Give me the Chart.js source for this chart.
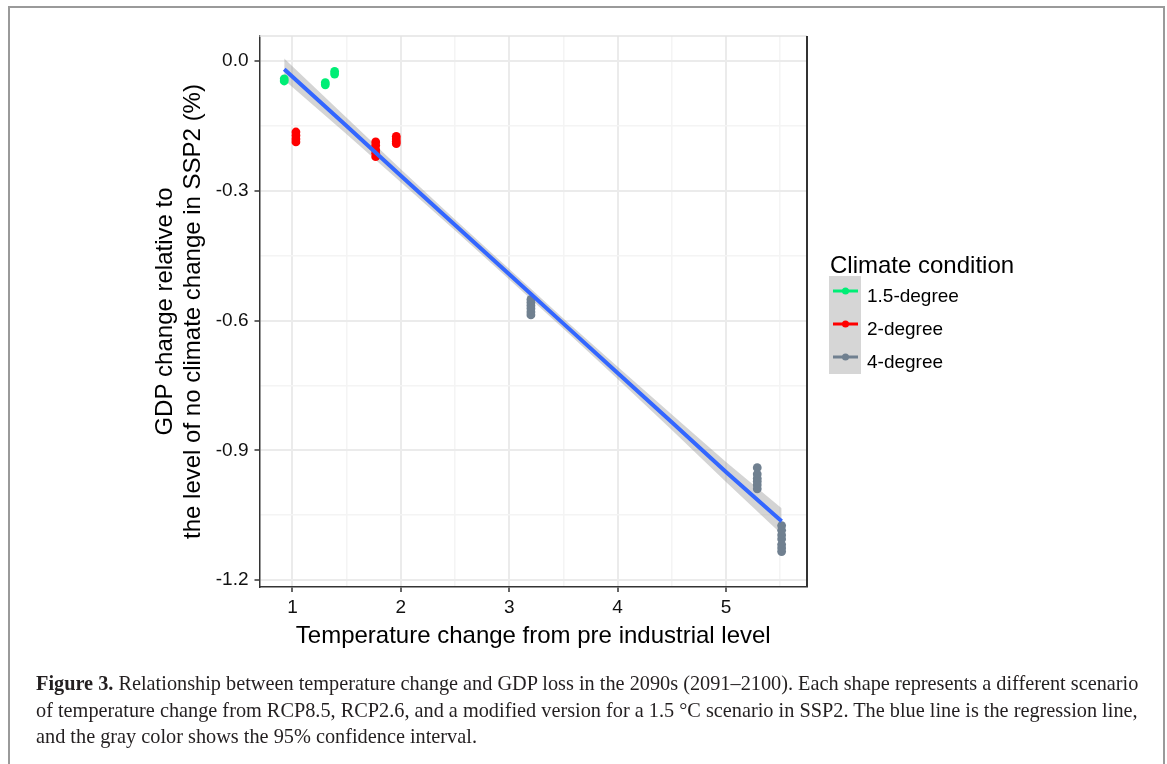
<!DOCTYPE html>
<html>
<head>
<meta charset="utf-8">
<script src="https://cdn.jsdelivr.net/npm/chart.js@4.4.1/dist/chart.umd.min.js"></script>
<style>
  html, body { margin: 0; padding: 0; background: #fff; overflow: hidden; }
  #frame {
    position: absolute; left: 8px; top: 6px; width: 1157px; height: 820px;
    box-sizing: border-box; border: 2px solid #9a9a9a;
  }
  #chart { position: absolute; left: 0; top: 0; }
  #caption {
    position: absolute; left: 36px; top: 670px; width: 1101px;
    font-family: "Liberation Serif", "DejaVu Serif", serif;
    font-size: 20.3px; line-height: 26.5px; color: #231f20;
  }
  #caption div { white-space: nowrap; }
  #caption .just { text-align: justify; text-align-last: justify; }
</style>
</head>
<body>
<div id="frame"></div>
<canvas id="chart" width="1167" height="764"></canvas>
<div id="caption">
  <div class="just"><b>Figure 3.</b> Relationship between temperature change and GDP loss in the 2090s (2091–2100). Each shape represents a different scenario</div>
  <div class="just">of temperature change from RCP8.5, RCP2.6, and a modified version for a 1.5 °C scenario in SSP2. The blue line is the regression line,</div>
  <div>and the gray color shows the 95% confidence interval.</div>
</div>
<script>
// === Data ===
const groupNames = ["1.5-degree", "2-degree", "4-degree"];

const temp15 = [0.924, 0.924, 1.303, 1.303, 1.389, 1.389];
const gdp15 = [-0.041, -0.046, -0.050, -0.055, -0.024, -0.030];

const temp20 = [1.032, 1.032, 1.032, 1.032, 1.768, 1.768, 1.768, 1.768, 1.768, 1.958, 1.958, 1.958, 1.958];
const gdp20 = [-0.164, -0.172, -0.180, -0.187, -0.187, -0.195, -0.205, -0.213, -0.221, -0.174, -0.180, -0.186, -0.191];

const temp40 = [3.20, 3.20, 3.20, 3.20, 3.20, 3.20,
  5.288, 5.288, 5.288, 5.288, 5.288, 5.288,
  5.513, 5.513, 5.513, 5.513, 5.513, 5.513, 5.513];
const gdp40 = [-0.551, -0.558, -0.565, -0.572, -0.580, -0.587,
  -0.940, -0.955, -0.965, -0.972, -0.980, -0.989,
  -1.074, -1.085, -1.096, -1.105, -1.118, -1.126, -1.134];

// regression line and 95% band
const fitTemp = [0.924, 1.5, 2, 2.5, 3, 3.5, 4, 4.5, 5, 5.513];
const fitGdp = [-0.019, -0.150, -0.265, -0.379, -0.493, -0.607, -0.721, -0.835, -0.950, -1.064];
const fitLower = [-0.044, -0.169, -0.280, -0.392, -0.505, -0.619, -0.735, -0.853, -0.973, -1.094];
const fitUpper = [0.006, -0.131, -0.250, -0.366, -0.481, -0.595, -0.707, -0.817, -0.927, -1.034];

const xTicksMajor = [1, 2, 3, 4, 5];
const yTicksMajor = [0.0, -0.3, -0.6, -0.9, -1.2];

// === Styles ===
const FONT = "'Liberation Sans', Arial, sans-serif";
const groupColors = ["#00EE76", "#FF0000", "#708090"];

const toPoints = (xs, ys) => xs.map((x, i) => ({ x: x, y: ys[i] }));
const isMajor = (v, list) => list.some(t => Math.abs(t - v) < 1e-6);

const scatterSets = [
  [temp15, gdp15], [temp20, gdp20], [temp40, gdp40]
].map((d, i) => ({
  label: groupNames[i],
  data: toPoints(d[0], d[1]),
  backgroundColor: groupColors[i],
  borderColor: groupColors[i],
  borderWidth: 0,
  pointRadius: 4.4,
  legendEntry: true,
  order: 1
}));

const datasets = [
  {
    label: "fit",
    data: toPoints(fitTemp, fitGdp),
    showLine: true,
    borderColor: "#3366FF",
    borderWidth: 4,
    pointRadius: 0,
    order: 0
  },
  ...scatterSets,
  {
    label: "lower",
    data: toPoints(fitTemp, fitLower),
    showLine: true,
    borderWidth: 0,
    borderColor: "rgba(0,0,0,0)",
    pointRadius: 0,
    order: 3
  },
  {
    label: "upper",
    data: toPoints(fitTemp, fitUpper),
    showLine: true,
    borderWidth: 0,
    borderColor: "rgba(0,0,0,0)",
    backgroundColor: "rgba(153,153,153,0.42)",
    fill: "-1",
    pointRadius: 0,
    order: 2
  }
];

// top / right panel edges
const panelEdges = {
  id: "panelEdges",
  beforeDatasetsDraw(chart) {
    const a = chart.chartArea;
    const c = chart.ctx;
    c.save();
    c.strokeStyle = "#e3e3e3";
    c.lineWidth = 1.5;
    c.beginPath();
    c.moveTo(a.left, a.top);
    c.lineTo(a.right, a.top);
    c.stroke();
    c.strokeStyle = "#333";
    c.lineWidth = 2;
    c.beginPath();
    c.moveTo(a.right, a.top);
    c.lineTo(a.right, a.bottom);
    c.stroke();
    c.restore();
  }
};

// ggplot style legend with gray key background
const keyLegend = {
  id: "keyLegend",
  afterDraw(chart) {
    const c = chart.ctx;
    const items = chart.data.datasets.filter(d => d.legendEntry);
    c.save();
    c.fillStyle = "#000";
    c.font = "24px " + FONT;
    c.textBaseline = "alphabetic";
    c.fillText("Climate condition", 830, 273);

    c.fillStyle = "#d6d6d6";
    c.fillRect(829, 276, 32, 98);

    items.forEach((d, i) => {
      const y = 291 + i * 33;
      c.strokeStyle = d.borderColor;
      c.lineWidth = 3;
      c.beginPath();
      c.moveTo(833, y);
      c.lineTo(858, y);
      c.stroke();
      c.fillStyle = d.backgroundColor;
      c.beginPath();
      c.arc(845.5, y, 3.5, 0, Math.PI * 2);
      c.fill();
      c.fillStyle = "#000";
      c.font = "19px " + FONT;
      c.fillText(d.label, 867, y + 11);
    });
    c.restore();
  }
};

new Chart(document.getElementById("chart"), {
  type: "scatter",
  data: { datasets: datasets },
  plugins: [panelEdges, keyLegend],
  options: {
    responsive: false,
    devicePixelRatio: 1,
    animation: false,
    layout: { padding: { left: 0, top: 36, right: 360, bottom: 107 } },
    plugins: {
      legend: { display: false },
      tooltip: { enabled: false }
    },
    scales: {
      x: {
        type: "linear",
        min: 0.696,
        max: 5.747,
        afterFit: s => { s.height = 70; },
        ticks: {
          stepSize: 0.5,
          includeBounds: false,
          autoSkip: false,
          maxRotation: 0,
          padding: 4,
          color: "#111",
          font: { size: 19, family: FONT },
          callback: v => isMajor(v, xTicksMajor) ? String(Math.round(v)) : ""
        },
        grid: {
          color: ctx => ctx.tick && isMajor(ctx.tick.value, xTicksMajor) ? "#ebebeb" : "#f4f4f4",
          lineWidth: ctx => ctx.tick && isMajor(ctx.tick.value, xTicksMajor) ? 2 : 1.5,
          tickLength: 5,
          tickColor: ctx => ctx.tick && isMajor(ctx.tick.value, xTicksMajor) ? "#333" : "rgba(0,0,0,0)",
          tickWidth: 1.5
        },
        border: { color: "#333", width: 1.5 },
        title: {
          display: true,
          text: "Temperature change from pre industrial level",
          color: "#000",
          font: { size: 24, family: FONT, lineHeight: 1.2 },
          padding: { top: 0, bottom: 6.6 }
        }
      },
      y: {
        type: "linear",
        min: -1.216,
        max: 0.058,
        afterFit: s => { s.width = 259.5; },
        ticks: {
          stepSize: 0.15,
          includeBounds: false,
          autoSkip: false,
          padding: 6,
          color: "#111",
          font: { size: 19, family: FONT },
          callback: v => isMajor(v, yTicksMajor) ? v.toFixed(1) : ""
        },
        grid: {
          color: ctx => ctx.tick && isMajor(ctx.tick.value, yTicksMajor) ? "#ebebeb" : "#f4f4f4",
          lineWidth: ctx => ctx.tick && isMajor(ctx.tick.value, yTicksMajor) ? 2 : 1.5,
          tickLength: 5,
          tickColor: ctx => ctx.tick && isMajor(ctx.tick.value, yTicksMajor) ? "#333" : "rgba(0,0,0,0)",
          tickWidth: 1.5
        },
        border: { color: "#333", width: 1.5 },
        title: {
          display: true,
          text: ["GDP change relative to", "the level of no climate change in SSP2 (%)"],
          color: "#000",
          font: { size: 24, family: FONT, lineHeight: 1.15 },
          padding: { top: 152, bottom: 0 }
        }
      }
    }
  }
});
</script>
</body>
</html>
